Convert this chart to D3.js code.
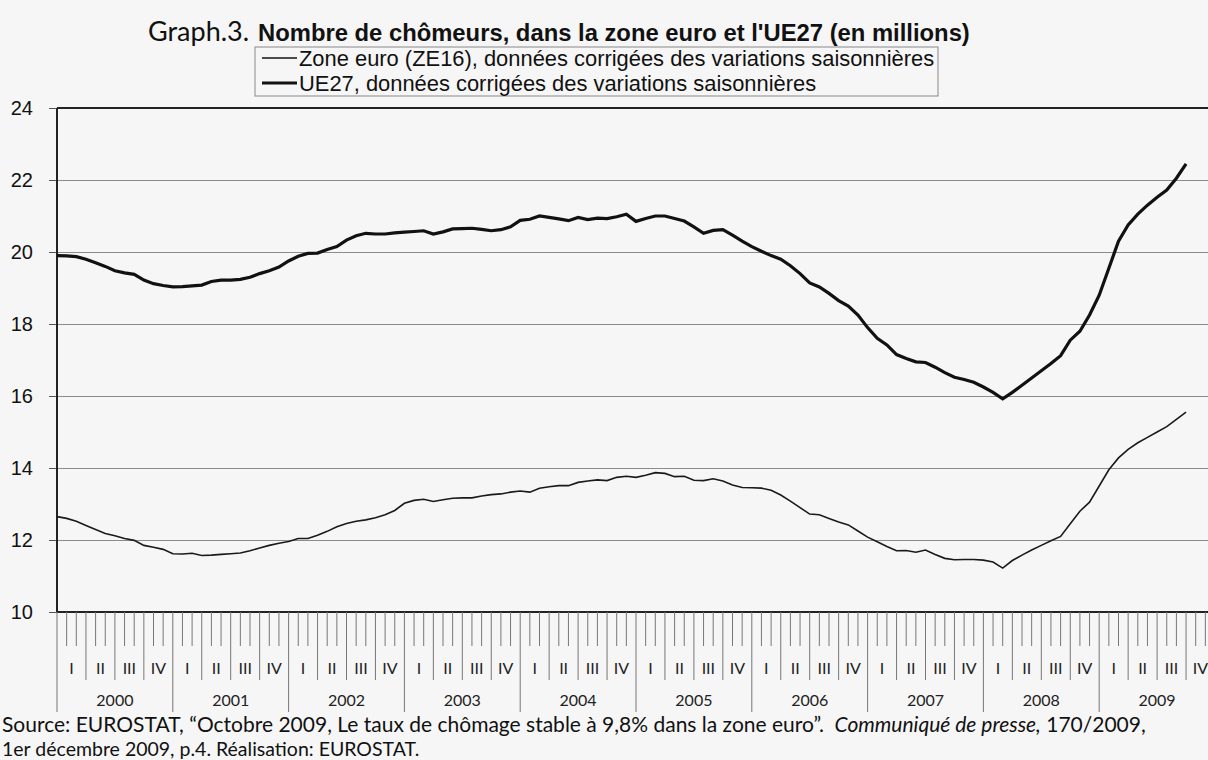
<!DOCTYPE html>
<html>
<head>
<meta charset="utf-8">
<script src="https://cdn.jsdelivr.net/npm/d3@7"></script>
<style>
  body { margin: 0; background: #f6f6f6; overflow: hidden; }
  .grid line { stroke: #8c8c8c; stroke-width: 1; }
  .grid path { display: none; }
</style>
</head>
<body>
<div id="my_dataviz"></div>
<script>
// monthly values, Jan 2000 -> Oct 2009 (millions)
var years = ["2000", "2001", "2002", "2003", "2004", "2005", "2006", "2007", "2008", "2009"];
var quarters = ["I", "II", "III", "IV"];
var yTicks = [10, 12, 14, 16, 18, 20, 22, 24];

var ue27 = [
  19.90, 19.89, 19.87, 19.80, 19.70, 19.60, 19.48, 19.42, 19.38, 19.22, 19.12, 19.07,
  19.03, 19.04, 19.06, 19.08, 19.18, 19.22, 19.22, 19.24, 19.30, 19.40, 19.48, 19.58,
  19.75, 19.88, 19.96, 19.97, 20.07, 20.15, 20.33, 20.45, 20.52, 20.50, 20.50, 20.53,
  20.55, 20.57, 20.59, 20.50, 20.56, 20.64, 20.65, 20.66, 20.63, 20.59, 20.62, 20.70,
  20.88, 20.91, 21.00, 20.96, 20.92, 20.87, 20.96, 20.90, 20.94, 20.93, 20.98, 21.05,
  20.85, 20.93, 21.00, 21.00, 20.93, 20.86, 20.70, 20.52, 20.60, 20.62, 20.47, 20.30,
  20.15, 20.02, 19.90, 19.80, 19.62, 19.40, 19.14, 19.03, 18.85, 18.65, 18.50, 18.25,
  17.90, 17.60, 17.42, 17.15, 17.04, 16.95, 16.93, 16.80, 16.65, 16.52, 16.46, 16.38,
  16.25, 16.10, 15.92, 16.10, 16.30, 16.50, 16.70, 16.90, 17.12, 17.55, 17.80, 18.25,
  18.80, 19.55, 20.30, 20.75, 21.05, 21.30, 21.52, 21.72, 22.05, 22.45
];

var ze16 = [
  12.65, 12.60, 12.52, 12.40, 12.29, 12.18, 12.12, 12.04, 11.99, 11.85, 11.80, 11.74,
  11.62, 11.61, 11.63, 11.57, 11.58, 11.60, 11.62, 11.64, 11.70, 11.78, 11.85, 11.91,
  11.96, 12.04, 12.04, 12.13, 12.24, 12.37, 12.46, 12.52, 12.56, 12.62, 12.70, 12.82,
  13.02, 13.10, 13.13, 13.07, 13.12, 13.16, 13.17, 13.17, 13.22, 13.26, 13.28, 13.33,
  13.36, 13.33, 13.44, 13.48, 13.51, 13.51, 13.60, 13.64, 13.67, 13.65, 13.74, 13.77,
  13.74, 13.80, 13.87, 13.85, 13.76, 13.77, 13.66, 13.65, 13.70, 13.64, 13.53, 13.46,
  13.45, 13.44, 13.38, 13.25, 13.08, 12.90, 12.72, 12.70, 12.60, 12.50, 12.42, 12.25,
  12.08, 11.95, 11.82, 11.70, 11.71, 11.66, 11.72, 11.60, 11.49, 11.45, 11.46, 11.46,
  11.44, 11.39, 11.22, 11.43, 11.58, 11.72, 11.85, 11.98, 12.10, 12.45, 12.80, 13.05,
  13.50, 13.95, 14.28, 14.52, 14.70, 14.85, 15.00, 15.15, 15.35, 15.55
];

var W = 1208, H = 760;
var margin = {top: 108, left: 57, bottom: 148};

var svg = d3.select("#my_dataviz")
  .append("svg")
    .attr("width", W)
    .attr("height", H);

// x: month index, the plot runs past the right edge of the picture
var x = d3.scaleLinear()
  .domain([0, 120])
  .range([margin.left, margin.left + 120 * 9.65]);

var y = d3.scaleLinear()
  .domain([10, 24])
  .range([H - margin.bottom, margin.top]);

// horizontal gridlines
svg.append("g")
  .attr("class", "grid")
  .attr("transform", "translate(" + margin.left + ",0)")
  .call(d3.axisLeft(y)
    .tickValues(yTicks.slice(1, -1))
    .tickSize(-(W - margin.left))
    .tickFormat(""));

// y axis labels + small ticks
var yAxis = svg.append("g")
  .attr("transform", "translate(" + margin.left + ",0)")
  .call(d3.axisLeft(y)
    .tickValues(yTicks)
    .tickSize(8)
    .tickPadding(16));
yAxis.select(".domain").remove();
yAxis.selectAll("line").attr("stroke", "#555");
yAxis.selectAll("text")
  .style("font-family", "Liberation Sans, Arial")
  .style("font-size", "20px")
  .attr("fill", "#111");

// frame: top, left, bottom
svg.append("line")
  .attr("x1", margin.left).attr("x2", W)
  .attr("y1", y(24)).attr("y2", y(24))
  .style("stroke", "#222").style("stroke-width", 2);
svg.append("line")
  .attr("x1", margin.left).attr("x2", W)
  .attr("y1", y(10)).attr("y2", y(10))
  .style("stroke", "#222").style("stroke-width", 2);
svg.append("line")
  .attr("x1", margin.left).attr("x2", margin.left)
  .attr("y1", y(24)).attr("y2", y(10))
  .style("stroke", "#222").style("stroke-width", 2);

// month ticks: short for months, longer for quarters, longest for years
var months = d3.range(1, 120);
svg.append("g")
  .selectAll("line")
  .data(months)
  .enter()
  .append("line")
    .attr("x1", function(d) { return x(d); })
    .attr("x2", function(d) { return x(d); })
    .attr("y1", y(10))
    .attr("y2", function(d) {
      if (d % 12 == 0) return 712;
      if (d % 3 == 0) return 680;
      return 646;
    })
    .style("stroke", "#777")
    .style("stroke-width", 1);

// year line at start
svg.append("line")
  .attr("x1", x(0)).attr("x2", x(0))
  .attr("y1", y(10)).attr("y2", 712)
  .style("stroke", "#777");

// quarter labels
var qData = d3.range(0, 40);
svg.append("g")
  .selectAll("text")
  .data(qData)
  .enter()
  .append("text")
    .attr("x", function(d) { return x(d * 3 + 1.5); })
    .attr("y", 668)
    .attr("dy", ".35em")
    .style("text-anchor", "middle")
    .style("font-family", "Lato, Noto Sans")
    .style("font-size", "16px")
    .attr("fill", "#222")
    .text(function(d) { return quarters[d % 4]; });

// year labels
svg.append("g")
  .selectAll("text")
  .data(years)
  .enter()
  .append("text")
    .attr("x", function(d, i) { return x(i * 12 + 6); })
    .attr("y", 700)
    .attr("dy", ".35em")
    .style("text-anchor", "middle")
    .style("font-family", "Lato, Noto Sans")
    .style("font-size", "16px")
    .attr("fill", "#222")
    .text(function(d) { return d; });

// the two series
var line = d3.line()
  .x(function(d, i) { return x(i); })
  .y(function(d) { return y(d); });

svg.append("path")
  .datum(ze16)
  .attr("d", line)
  .style("fill", "none")
  .style("stroke", "#1a1a1a")
  .style("stroke-width", 1.6);

svg.append("path")
  .datum(ue27)
  .attr("d", line)
  .style("fill", "none")
  .style("stroke", "#111")
  .style("stroke-width", 3.2);

// title
var title = svg.append("text")
  .attr("y", 41)
  .attr("fill", "#111");
title.append("tspan")
  .attr("x", 148)
  .style("font-family", "Lato, Noto Sans")
  .style("font-size", "27px")
  .text("Graph.3.");
title.append("tspan")
  .attr("x", 258)
  .style("font-family", "Liberation Sans, Arial")
  .style("font-weight", "bold")
  .style("font-size", "23.8px")
  .text("Nombre de chômeurs, dans la zone euro et l'UE27 (en millions)");

// legend
svg.append("rect")
  .attr("x", 255).attr("y", 47)
  .attr("width", 683).attr("height", 49)
  .style("fill", "#f6f6f6")
  .style("stroke", "#888")
  .style("stroke-width", 1);

var legend = [
  {name: "Zone euro (ZE16), données corrigées des variations saisonnières", w: 1.4},
  {name: "UE27, données corrigées des variations saisonnières", w: 3.2}
];
legend.forEach(function(d, i) {
  svg.append("line")
    .attr("x1", 262).attr("x2", 297)
    .attr("y1", 58 + i * 25).attr("y2", 58 + i * 25)
    .style("stroke", "#111").style("stroke-width", d.w);
  svg.append("text")
    .attr("x", 299)
    .attr("y", 58 + i * 25)
    .attr("dy", ".35em")
    .style("font-family", "Liberation Sans, Arial")
    .style("font-size", "21.9px")
    .attr("fill", "#111")
    .text(d.name);
});

// source
var src = svg.append("text")
  .attr("x", 2)
  .attr("y", 732)
  .style("font-family", "Lato, Noto Sans")
  .style("font-size", "21px")
  .style("white-space", "pre")
  .attr("fill", "#111");
src.append("tspan").text("Source: EUROSTAT, “Octobre 2009, Le taux de chômage stable à 9,8% dans la zone euro”.  ");
src.append("tspan").style("font-style", "italic").text("Communiqué de presse,");
src.append("tspan").text(" 170/2009,");

svg.append("text")
  .attr("x", 2)
  .attr("y", 756)
  .style("font-family", "Lato, Noto Sans")
  .style("font-size", "19.5px")
  .attr("fill", "#111")
  .text("1er décembre 2009, p.4. Réalisation: EUROSTAT.");
</script>
</body>
</html>
